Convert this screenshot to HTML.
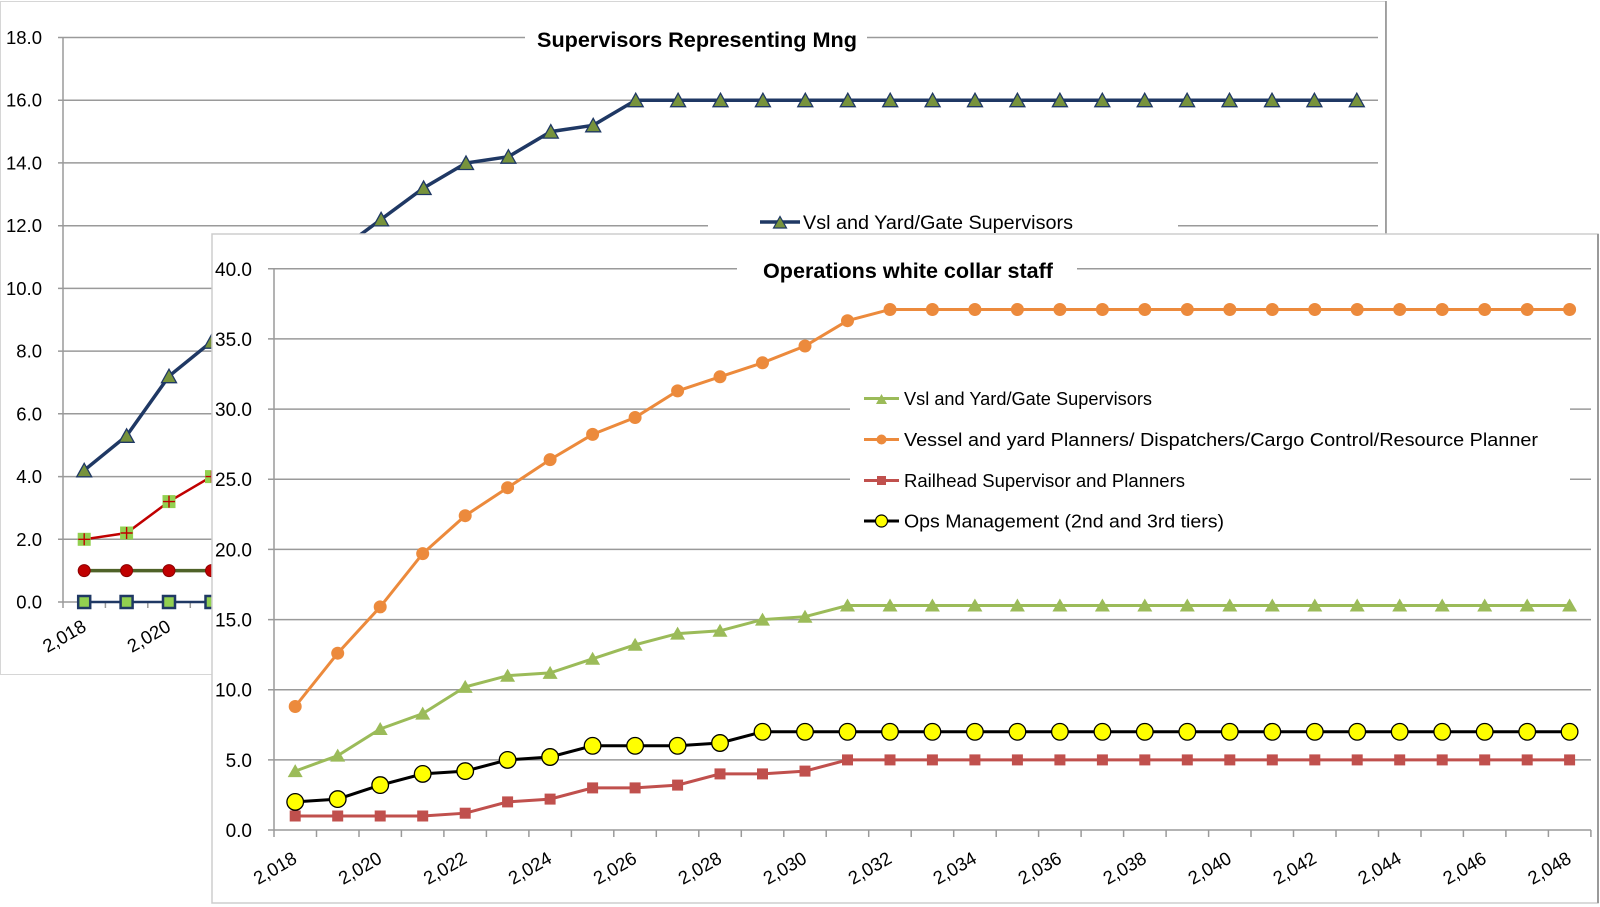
<!DOCTYPE html>
<html><head><meta charset="utf-8"><style>
html,body{margin:0;padding:0;background:#fff;}
svg{display:block;font-family:"Liberation Sans",Arial,sans-serif;}
</style></head><body>
<svg width="1600" height="907" viewBox="0 0 1600 907" xmlns="http://www.w3.org/2000/svg">
<defs>
<marker id="bTri" markerUnits="userSpaceOnUse" markerWidth="24" markerHeight="24" refX="12" refY="12" overflow="visible"><path d="M4.5 18.5 L12 5 L19.5 18.5 Z" fill="#77933C" stroke="#1F3864" stroke-width="1.3"/></marker>
<marker id="bSqP" markerUnits="userSpaceOnUse" markerWidth="24" markerHeight="24" refX="12" refY="12" overflow="visible"><rect x="5.5" y="5.5" width="13" height="13" fill="#92D050"/><path d="M12 6 V18 M6 12 H18" stroke="#C00000" stroke-width="1.4"/></marker>
<marker id="bCirc" markerUnits="userSpaceOnUse" markerWidth="24" markerHeight="24" refX="12" refY="12" overflow="visible"><circle cx="12" cy="12" r="6" fill="#C00000" stroke="#8B0000" stroke-width="1"/></marker>
<marker id="bSqB" markerUnits="userSpaceOnUse" markerWidth="24" markerHeight="24" refX="12" refY="12" overflow="visible"><rect x="6" y="6" width="12" height="12" fill="#92D050" stroke="#1F3864" stroke-width="2.5"/></marker>
<marker id="fTri" markerUnits="userSpaceOnUse" markerWidth="24" markerHeight="24" refX="12" refY="12" overflow="visible"><path d="M4.5 18 L12 5 L19.5 18 Z" fill="#9BBB59"/></marker>
<marker id="fCircO" markerUnits="userSpaceOnUse" markerWidth="24" markerHeight="24" refX="12" refY="12" overflow="visible"><circle cx="12" cy="12" r="6.5" fill="#EC8A3C"/></marker>
<marker id="fSq" markerUnits="userSpaceOnUse" markerWidth="24" markerHeight="24" refX="12" refY="12" overflow="visible"><rect x="6.5" y="6.5" width="11" height="11" fill="#C0504D"/></marker>
<marker id="fCircY" markerUnits="userSpaceOnUse" markerWidth="24" markerHeight="24" refX="12" refY="12" overflow="visible"><circle cx="12" cy="12" r="8.3" fill="#FFFF00" stroke="#000" stroke-width="1.3"/></marker>
</defs>

<!-- ============ BACK PANEL ============ -->
<rect x="0.5" y="1.5" width="1385" height="673" fill="#fff" stroke="#d6d6d6" stroke-width="1"/>
<line x1="1386" y1="1" x2="1386" y2="675" stroke="#8c8c8c" stroke-width="1.5"/>

<g stroke="#9a9a9a" stroke-width="1.5">
<line x1="58" y1="37.5" x2="1378" y2="37.5"/>
<line x1="58" y1="100.2" x2="1378" y2="100.2"/>
<line x1="58" y1="162.9" x2="1378" y2="162.9"/>
<line x1="58" y1="225.7" x2="1378" y2="225.7"/>
<line x1="58" y1="288.4" x2="1378" y2="288.4"/>
<line x1="58" y1="351.1" x2="1378" y2="351.1"/>
<line x1="58" y1="413.8" x2="1378" y2="413.8"/>
<line x1="58" y1="476.6" x2="1378" y2="476.6"/>
<line x1="58" y1="539.3" x2="1378" y2="539.3"/>
<line x1="58" y1="602" x2="1378" y2="602"/>
<line x1="63" y1="37.5" x2="63" y2="602"/>
<line x1="63" y1="602" x2="63" y2="608"/>
<line x1="105.4" y1="602" x2="105.4" y2="608"/>
<line x1="147.8" y1="602" x2="147.8" y2="608"/>
<line x1="190.3" y1="602" x2="190.3" y2="608"/>
</g>

<g font-size="18.5" fill="#000" text-anchor="end">
<text x="42" y="44">18.0</text>
<text x="42" y="106.7">16.0</text>
<text x="42" y="169.4">14.0</text>
<text x="42" y="232.2">12.0</text>
<text x="42" y="294.9">10.0</text>
<text x="42" y="357.6">8.0</text>
<text x="42" y="420.3">6.0</text>
<text x="42" y="483.1">4.0</text>
<text x="42" y="545.8">2.0</text>
<text x="42" y="608.5">0.0</text>
</g>
<g font-size="18.5" fill="#000" text-anchor="end">
<text x="87.5" y="630" transform="rotate(-30 87.5 630)">2,018</text>
<text x="172" y="630" transform="rotate(-30 172 630)">2,020</text>
<text x="257" y="630" transform="rotate(-30 257 630)">2,022</text>
</g>

<!-- back title -->
<rect x="525" y="24" width="342" height="30" fill="#fff"/>
<text x="537" y="47" font-size="21.5" font-weight="bold" textLength="320" lengthAdjust="spacingAndGlyphs">Supervisors Representing Mng</text>

<!-- back series -->
<polyline fill="none" stroke="#1F3864" stroke-width="2.5" marker-start="url(#bSqB)" marker-mid="url(#bSqB)" marker-end="url(#bSqB)" points="84.2,602 126.6,602 169,602 211.5,602 253.9,602 296.3,602"/>
<polyline fill="none" stroke="#4F6228" stroke-width="3.5" marker-start="url(#bCirc)" marker-mid="url(#bCirc)" marker-end="url(#bCirc)" points="84.2,570.6 126.6,570.6 169,570.6 211.5,570.6 253.9,570.6 296.3,570.6"/>
<polyline fill="none" stroke="#C00000" stroke-width="2.5" marker-start="url(#bSqP)" marker-mid="url(#bSqP)" marker-end="url(#bSqP)" points="84.2,539.3 126.6,533 169,501.6 211.5,476.6 253.9,470.3 296.3,445"/>
<polyline fill="none" stroke="#1F3864" stroke-width="3.5" marker-start="url(#bTri)" marker-mid="url(#bTri)" marker-end="url(#bTri)" points="84.2,470.3 126.6,435.8 169,376.2 211.5,341.7 253.9,282.1 296.3,257 338.7,250.8 381.1,219.4 423.6,188 466,163 508.4,156.7 550.8,131.6 593.2,125.3 635.7,100.2 678.1,100.2 720.5,100.2 762.9,100.2 805.3,100.2 847.8,100.2 890.2,100.2 932.6,100.2 975,100.2 1017.4,100.2 1059.9,100.2 1102.3,100.2 1144.7,100.2 1187.1,100.2 1229.5,100.2 1272,100.2 1314.4,100.2 1356.8,100.2"/>

<!-- back legend -->
<rect x="708" y="206" width="470" height="34" fill="#fff"/>
<line x1="760" y1="222" x2="800" y2="222" stroke="#1F3864" stroke-width="3.5"/>
<path d="M773.5 228 L780 216.5 L786.5 228 Z" fill="#77933C" stroke="#1F3864" stroke-width="1.2"/>
<text x="803" y="229" font-size="19.7" textLength="270" lengthAdjust="spacingAndGlyphs">Vsl and Yard/Gate Supervisors</text>

<!-- ============ FRONT PANEL ============ -->
<rect x="212" y="234" width="1386" height="669" fill="#fff" stroke="#cdcdcd" stroke-width="1.5"/>
<line x1="1598" y1="234" x2="1598" y2="903" stroke="#9a9a9a" stroke-width="2"/>

<g stroke="#9a9a9a" stroke-width="1.5">
<line x1="268" y1="268.8" x2="1591" y2="268.8"/>
<line x1="268" y1="338.9" x2="1591" y2="338.9"/>
<line x1="268" y1="409.1" x2="1591" y2="409.1"/>
<line x1="268" y1="479.2" x2="1591" y2="479.2"/>
<line x1="268" y1="549.4" x2="1591" y2="549.4"/>
<line x1="268" y1="619.6" x2="1591" y2="619.6"/>
<line x1="268" y1="689.7" x2="1591" y2="689.7"/>
<line x1="268" y1="759.9" x2="1591" y2="759.9"/>
<line x1="268" y1="830" x2="1591" y2="830"/>
<line x1="274" y1="268.8" x2="274" y2="830"/>
</g>
<g stroke="#9a9a9a" stroke-width="1.5">
<line x1="274" y1="830" x2="274" y2="837"/><line x1="316.5" y1="830" x2="316.5" y2="837"/><line x1="359" y1="830" x2="359" y2="837"/><line x1="401.4" y1="830" x2="401.4" y2="837"/><line x1="443.9" y1="830" x2="443.9" y2="837"/><line x1="486.4" y1="830" x2="486.4" y2="837"/><line x1="528.9" y1="830" x2="528.9" y2="837"/><line x1="571.4" y1="830" x2="571.4" y2="837"/><line x1="613.8" y1="830" x2="613.8" y2="837"/><line x1="656.3" y1="830" x2="656.3" y2="837"/><line x1="698.8" y1="830" x2="698.8" y2="837"/><line x1="741.3" y1="830" x2="741.3" y2="837"/><line x1="783.8" y1="830" x2="783.8" y2="837"/><line x1="826.2" y1="830" x2="826.2" y2="837"/><line x1="868.7" y1="830" x2="868.7" y2="837"/><line x1="911.2" y1="830" x2="911.2" y2="837"/><line x1="953.7" y1="830" x2="953.7" y2="837"/><line x1="996.2" y1="830" x2="996.2" y2="837"/><line x1="1038.6" y1="830" x2="1038.6" y2="837"/><line x1="1081.1" y1="830" x2="1081.1" y2="837"/><line x1="1123.6" y1="830" x2="1123.6" y2="837"/><line x1="1166.1" y1="830" x2="1166.1" y2="837"/><line x1="1208.6" y1="830" x2="1208.6" y2="837"/><line x1="1251" y1="830" x2="1251" y2="837"/><line x1="1293.5" y1="830" x2="1293.5" y2="837"/><line x1="1336" y1="830" x2="1336" y2="837"/><line x1="1378.5" y1="830" x2="1378.5" y2="837"/><line x1="1421" y1="830" x2="1421" y2="837"/><line x1="1463.4" y1="830" x2="1463.4" y2="837"/><line x1="1505.9" y1="830" x2="1505.9" y2="837"/><line x1="1548.4" y1="830" x2="1548.4" y2="837"/><line x1="1590.9" y1="830" x2="1590.9" y2="837"/>
</g>

<g font-size="19" fill="#000" text-anchor="end">
<text x="252" y="275.8">40.0</text>
<text x="252" y="345.9">35.0</text>
<text x="252" y="416.1">30.0</text>
<text x="252" y="486.2">25.0</text>
<text x="252" y="556.4">20.0</text>
<text x="252" y="626.6">15.0</text>
<text x="252" y="696.7">10.0</text>
<text x="252" y="766.9">5.0</text>
<text x="252" y="837">0.0</text>
</g>

<g font-size="18.5" fill="#000" text-anchor="end">
<text x="298.2" y="862" transform="rotate(-30 298.2 862)">2,018</text>
<text x="383.2" y="862" transform="rotate(-30 383.2 862)">2,020</text>
<text x="468.2" y="862" transform="rotate(-30 468.2 862)">2,022</text>
<text x="553.1" y="862" transform="rotate(-30 553.1 862)">2,024</text>
<text x="638.1" y="862" transform="rotate(-30 638.1 862)">2,026</text>
<text x="723" y="862" transform="rotate(-30 723 862)">2,028</text>
<text x="808" y="862" transform="rotate(-30 808 862)">2,030</text>
<text x="893" y="862" transform="rotate(-30 893 862)">2,032</text>
<text x="977.9" y="862" transform="rotate(-30 977.9 862)">2,034</text>
<text x="1062.9" y="862" transform="rotate(-30 1062.9 862)">2,036</text>
<text x="1147.8" y="862" transform="rotate(-30 1147.8 862)">2,038</text>
<text x="1232.8" y="862" transform="rotate(-30 1232.8 862)">2,040</text>
<text x="1317.8" y="862" transform="rotate(-30 1317.8 862)">2,042</text>
<text x="1402.7" y="862" transform="rotate(-30 1402.7 862)">2,044</text>
<text x="1487.7" y="862" transform="rotate(-30 1487.7 862)">2,046</text>
<text x="1572.6" y="862" transform="rotate(-30 1572.6 862)">2,048</text>
</g>

<!-- front title -->
<rect x="737" y="255" width="340" height="30" fill="#fff"/>
<text x="763" y="278" font-size="21.5" font-weight="bold" textLength="290" lengthAdjust="spacingAndGlyphs">Operations white collar staff</text>

<!-- front legend -->
<rect x="850" y="378" width="720" height="163" fill="#fff"/>
<line x1="864" y1="398.5" x2="899" y2="398.5" stroke="#9BBB59" stroke-width="3"/>
<path d="M876 404 L881.5 394 L887 404 Z" fill="#9BBB59"/>
<text x="904" y="405" font-size="18" textLength="248" lengthAdjust="spacingAndGlyphs">Vsl and Yard/Gate Supervisors</text>
<line x1="864" y1="439.5" x2="899" y2="439.5" stroke="#EC8A3C" stroke-width="3"/>
<circle cx="881.5" cy="439.5" r="5" fill="#EC8A3C"/>
<text x="904" y="446" font-size="18" textLength="634" lengthAdjust="spacingAndGlyphs">Vessel and yard Planners/ Dispatchers/Cargo Control/Resource Planner</text>
<line x1="864" y1="480.5" x2="899" y2="480.5" stroke="#C0504D" stroke-width="3"/>
<rect x="877" y="476" width="9" height="9" fill="#C0504D"/>
<text x="904" y="487" font-size="18" textLength="281" lengthAdjust="spacingAndGlyphs">Railhead Supervisor and Planners</text>
<line x1="864" y1="521" x2="899" y2="521" stroke="#000" stroke-width="3"/>
<circle cx="881.5" cy="521" r="6" fill="#FFFF00" stroke="#000" stroke-width="1.2"/>
<text x="904" y="527.5" font-size="18" textLength="320" lengthAdjust="spacingAndGlyphs">Ops Management (2nd and 3rd tiers)</text>

<!-- front series -->
<polyline fill="none" stroke="#9BBB59" stroke-width="3" marker-start="url(#fTri)" marker-mid="url(#fTri)" marker-end="url(#fTri)" points="295.2,771.1 337.7,755.6 380.2,729 422.7,713.6 465.2,686.9 507.6,675.7 550.1,672.9 592.6,658.8 635.1,644.8 677.6,633.6 720,630.8 762.5,619.6 805,616.7 847.5,605.5 890,605.5 932.4,605.5 974.9,605.5 1017.4,605.5 1059.9,605.5 1102.4,605.5 1144.8,605.5 1187.3,605.5 1229.8,605.5 1272.3,605.5 1314.8,605.5 1357.2,605.5 1399.7,605.5 1442.2,605.5 1484.7,605.5 1527.2,605.5 1569.6,605.5"/>
<polyline fill="none" stroke="#EC8A3C" stroke-width="3" marker-start="url(#fCircO)" marker-mid="url(#fCircO)" marker-end="url(#fCircO)" points="295.2,706.5 337.7,653.2 380.2,606.9 422.7,553.6 465.2,515.7 507.6,487.7 550.1,459.6 592.6,434.4 635.1,417.5 677.6,390.9 720,376.8 762.5,362.8 805,346 847.5,320.7 890,309.5 932.4,309.5 974.9,309.5 1017.4,309.5 1059.9,309.5 1102.4,309.5 1144.8,309.5 1187.3,309.5 1229.8,309.5 1272.3,309.5 1314.8,309.5 1357.2,309.5 1399.7,309.5 1442.2,309.5 1484.7,309.5 1527.2,309.5 1569.6,309.5"/>
<polyline fill="none" stroke="#C0504D" stroke-width="3" marker-start="url(#fSq)" marker-mid="url(#fSq)" marker-end="url(#fSq)" points="295.2,816 337.7,816 380.2,816 422.7,816 465.2,813.2 507.6,801.9 550.1,799.1 592.6,787.9 635.1,787.9 677.6,785.1 720,773.9 762.5,773.9 805,771.1 847.5,759.9 890,759.9 932.4,759.9 974.9,759.9 1017.4,759.9 1059.9,759.9 1102.4,759.9 1144.8,759.9 1187.3,759.9 1229.8,759.9 1272.3,759.9 1314.8,759.9 1357.2,759.9 1399.7,759.9 1442.2,759.9 1484.7,759.9 1527.2,759.9 1569.6,759.9"/>
<polyline fill="none" stroke="#000" stroke-width="3" marker-start="url(#fCircY)" marker-mid="url(#fCircY)" marker-end="url(#fCircY)" points="295.2,801.9 337.7,799.1 380.2,785.1 422.7,773.9 465.2,771.1 507.6,759.9 550.1,757 592.6,745.8 635.1,745.8 677.6,745.8 720,743 762.5,731.8 805,731.8 847.5,731.8 890,731.8 932.4,731.8 974.9,731.8 1017.4,731.8 1059.9,731.8 1102.4,731.8 1144.8,731.8 1187.3,731.8 1229.8,731.8 1272.3,731.8 1314.8,731.8 1357.2,731.8 1399.7,731.8 1442.2,731.8 1484.7,731.8 1527.2,731.8 1569.6,731.8"/>
</svg>
</body></html>
